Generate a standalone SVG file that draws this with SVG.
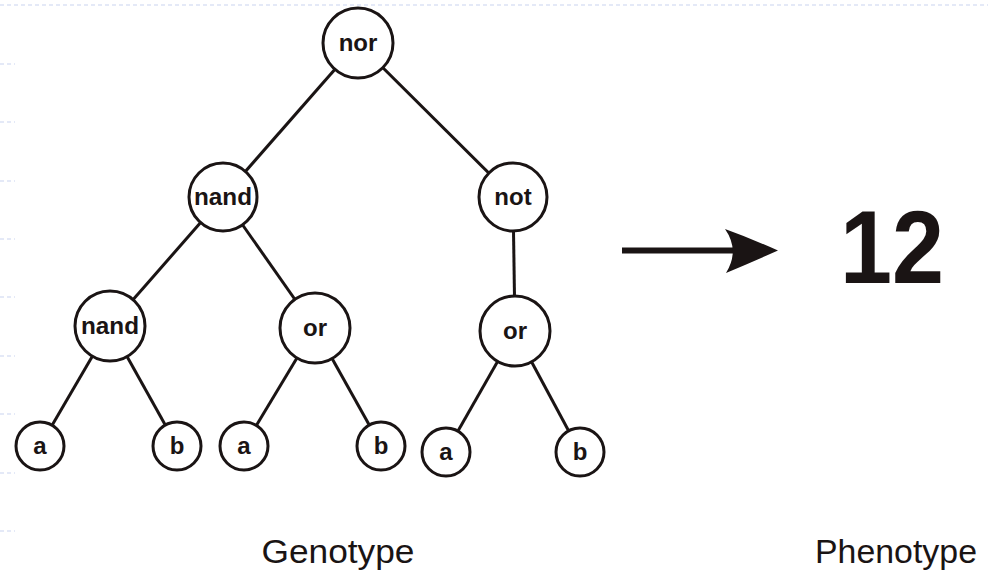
<svg xmlns="http://www.w3.org/2000/svg" width="988" height="574" viewBox="0 0 988 574">
  <defs>
    <style>
      .grid { stroke: #c9d3ef; stroke-width: 1; stroke-dasharray: 4 3; fill: none; }
      .edge { stroke: #1a1414; stroke-width: 3; fill: none; }
      .node circle { fill: #ffffff; stroke: #1a1414; stroke-width: 3; }
      .node text { font-family: "Liberation Sans", Arial, sans-serif; font-weight: bold; font-size: 24px; fill: #1a1414; text-anchor: middle; }
      .caption { font-family: "Liberation Sans", Arial, sans-serif; font-size: 33px; fill: #1a1414; text-anchor: middle; }
    </style>
  </defs>
  <rect width="988" height="574" fill="#ffffff"/>

  <!-- faint page guides -->
  <g id="guides">
    <line class="grid" x1="0" y1="5" x2="988" y2="5"/>
    <path class="grid" d="M0,64h15 M0,122h15 M0,181h15 M0,239h15 M0,297h15 M0,356h15 M0,414h15 M0,473h15 M0,531h15"/>
  </g>

  <!-- connectors -->
  <g id="connectors">
    <line class="edge" x1="358" y1="43" x2="223" y2="197"/>
    <line class="edge" x1="358" y1="43" x2="513" y2="197"/>
    <line class="edge" x1="223" y1="197" x2="110" y2="326"/>
    <line class="edge" x1="223" y1="197" x2="315" y2="328"/>
    <line class="edge" x1="513" y1="197" x2="515" y2="331"/>
    <line class="edge" x1="110" y1="326" x2="40" y2="446"/>
    <line class="edge" x1="110" y1="326" x2="177" y2="446"/>
    <line class="edge" x1="315" y1="328" x2="244" y2="446"/>
    <line class="edge" x1="315" y1="328" x2="381" y2="446"/>
    <line class="edge" x1="515" y1="331" x2="446" y2="452"/>
    <line class="edge" x1="515" y1="331" x2="580" y2="452"/>
  </g>

  <g id="n-nor" class="node"><circle cx="358" cy="43" r="35"/><text x="358" y="51">nor</text></g>
  <g id="n-nand1" class="node"><circle cx="223" cy="197" r="34"/><text x="223" y="205" textLength="58" lengthAdjust="spacingAndGlyphs">nand</text></g>
  <g id="n-not" class="node"><circle cx="513" cy="197" r="34"/><text x="513" y="205">not</text></g>
  <g id="n-nand2" class="node"><circle cx="110" cy="326" r="35"/><text x="110" y="334" textLength="58" lengthAdjust="spacingAndGlyphs">nand</text></g>
  <g id="n-or1" class="node"><circle cx="315" cy="328" r="35"/><text x="315" y="336">or</text></g>
  <g id="n-or2" class="node"><circle cx="515" cy="331" r="35"/><text x="515" y="339">or</text></g>
  <g id="n-a1" class="node"><circle cx="40" cy="446" r="24"/><text x="40" y="454">a</text></g>
  <g id="n-b1" class="node"><circle cx="177" cy="446" r="24"/><text x="177" y="454">b</text></g>
  <g id="n-a2" class="node"><circle cx="244" cy="446" r="24"/><text x="244" y="454">a</text></g>
  <g id="n-b2" class="node"><circle cx="381" cy="446" r="24"/><text x="381" y="454">b</text></g>
  <g id="n-a3" class="node"><circle cx="446" cy="452" r="24"/><text x="446" y="460">a</text></g>
  <g id="n-b3" class="node"><circle cx="580" cy="452" r="24"/><text x="580" y="460">b</text></g>

  <!-- mapping arrow -->
  <g id="mapping">
    <line x1="622" y1="250.5" x2="745" y2="250.5" stroke="#1a1414" stroke-width="6"/>
    <path d="M778,250.5 Q750,238 725,229 Q740,250.5 726,273 Q752,262 778,250.5 Z" fill="#1a1414"/>
  </g>

  <g id="phenotype-value">
    <text x="892" y="283" font-family="'Liberation Sans', Arial, sans-serif" font-weight="bold" font-size="104" fill="#1a1414" text-anchor="middle" textLength="104" lengthAdjust="spacingAndGlyphs">12</text>
  </g>

  <text class="caption" x="338" y="563" textLength="153" lengthAdjust="spacingAndGlyphs">Genotype</text>
  <text class="caption" x="896" y="563" textLength="162" lengthAdjust="spacingAndGlyphs">Phenotype</text>
</svg>
